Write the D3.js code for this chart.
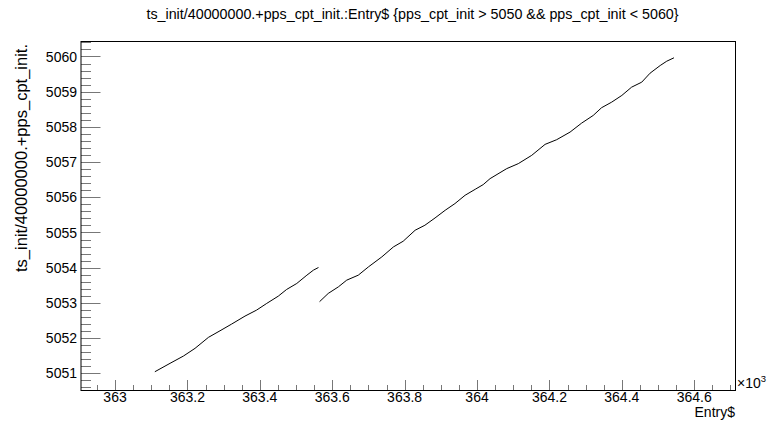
<!DOCTYPE html>
<html>
<head>
<meta charset="utf-8">
<script src="https://cdn.jsdelivr.net/npm/d3@7"></script>
<style>
  html, body { margin: 0; padding: 0; background: #fff; }
  svg { display: block; }
  text { font-family: "Liberation Sans", Arial, Helvetica, sans-serif; fill: #000; }
</style>
</head>
<body>
<svg id="chart" width="769" height="423"></svg>
<script>
// ---- data (Entry$, value) ----
const seg1X = [363110, 363152, 363189, 363221, 363258, 363290, 363322, 363359, 363391, 363419, 363451, 363474, 363502, 363530, 363548, 363562];
const seg1Y = [5051.045, 5051.284, 5051.491, 5051.709, 5052.021, 5052.208, 5052.398, 5052.625, 5052.795, 5052.985, 5053.192, 5053.382, 5053.552, 5053.788, 5053.930, 5054.006];

const seg2X = [363565, 363589, 363617, 363640, 363672, 363700, 363737, 363769, 363796, 363829, 363856, 363884, 363912, 363939, 363967, 363995, 364017, 364036, 364082, 364114, 364151, 364188, 364220, 364257, 364289, 364321, 364344, 364372, 364400, 364427, 364455, 364478, 364506, 364524, 364544];
const seg2Y = [5053.035, 5053.269, 5053.456, 5053.646, 5053.788, 5054.023, 5054.307, 5054.590, 5054.752, 5055.064, 5055.206, 5055.413, 5055.631, 5055.821, 5056.057, 5056.227, 5056.360, 5056.530, 5056.814, 5056.956, 5057.191, 5057.503, 5057.636, 5057.852, 5058.107, 5058.325, 5058.544, 5058.703, 5058.893, 5059.128, 5059.270, 5059.525, 5059.743, 5059.865, 5059.962];

const xTickValues = [363000, 363200, 363400, 363600, 363800, 364000, 364200, 364400, 364600];
const xTickLabels = ["363", "363.2", "363.4", "363.6", "363.8", "364", "364.2", "364.4", "364.6"];
const yTickValues = [5051, 5052, 5053, 5054, 5055, 5056, 5057, 5058, 5059, 5060];
const yTickLabels = ["5051", "5052", "5053", "5054", "5055", "5056", "5057", "5058", "5059", "5060"];

const titleText = "ts_init/40000000.+pps_cpt_init.:Entry$ {pps_cpt_init > 5050 && pps_cpt_init < 5060}";
const yTitle = "ts_init/40000000.+pps_cpt_init.";
const xTitle = "Entry$";

// ---- layout ----
const L = 81, R = 735.5, T = 41.5, B = 390.5;
const svg = d3.select("#chart");

const x = d3.scaleLinear().domain([362906, 364714]).range([L, R]);
const y = d3.scaleLinear().domain([5050.512, 5060.425]).range([B, T]);

// title
svg.append("text").attr("x", 412.5).attr("y", 19).attr("text-anchor", "middle")
  .style("font-size", "14.3px").text(titleText);

// data lines
const line = d3.line().x(d => x(d[0])).y(d => y(d[1]));
const s1 = seg1X.map((v, i) => [v, seg1Y[i]]);
const s2 = seg2X.map((v, i) => [v, seg2Y[i]]);
[s1, s2].forEach(s => {
  svg.append("path").datum(s).attr("d", line)
    .attr("fill", "none").attr("stroke", "#000").attr("stroke-width", 1);
});

// x axis ticks (inside frame)
const xMinor = d3.range(362950, 364714, 50).filter(v => !xTickValues.includes(v));
const gx = svg.append("g");
gx.selectAll("line.maj").data(xTickValues).enter().append("line")
  .attr("x1", d => Math.round(x(d)) + 0.5).attr("x2", d => Math.round(x(d)) + 0.5)
  .attr("y1", B).attr("y2", B - 10.5).attr("stroke", "#777").attr("stroke-width", 1);
gx.selectAll("line.min").data(xMinor).enter().append("line")
  .attr("x1", d => Math.round(x(d)) + 0.5).attr("x2", d => Math.round(x(d)) + 0.5)
  .attr("y1", B).attr("y2", B - 5.5).attr("stroke", "#777").attr("stroke-width", 1);
gx.selectAll("text").data(xTickValues).enter().append("text")
  .attr("x", d => x(d)).attr("y", 402).attr("text-anchor", "middle")
  .style("font-size", "14px").text((d, i) => xTickLabels[i]);

// y axis ticks (inside frame)
const yMinor = d3.range(50506, 50605, 2).map(v => v / 10).filter(v => v >= 5050.52 && v <= 5060.42 && !yTickValues.includes(Math.round(v * 10) / 10));
const gy = svg.append("g");
gy.selectAll("line.maj").data(yTickValues).enter().append("line")
  .attr("x1", L).attr("x2", L + 19.5)
  .attr("y1", d => Math.round(y(d)) + 0.5).attr("y2", d => Math.round(y(d)) + 0.5)
  .attr("stroke", "#777").attr("stroke-width", 1);
gy.selectAll("line.min").data(yMinor).enter().append("line")
  .attr("x1", L).attr("x2", L + 10)
  .attr("y1", d => Math.round(y(d)) + 0.5).attr("y2", d => Math.round(y(d)) + 0.5)
  .attr("stroke", "#777").attr("stroke-width", 1);
gy.selectAll("text").data(yTickValues).enter().append("text")
  .attr("x", 77).attr("y", d => y(d)).attr("dy", "0.36em").attr("text-anchor", "end")
  .style("font-size", "14px").text((d, i) => yTickLabels[i]);

// frame
svg.append("rect").attr("x", L).attr("y", T).attr("width", R - L).attr("height", B - T)
  .attr("fill", "none").attr("stroke", "#000").attr("stroke-width", 1);

// axis titles
svg.append("text").attr("transform", "translate(27,44) rotate(-90)")
  .attr("text-anchor", "end").style("font-size", "16.5px").text(yTitle);
svg.append("text").attr("x", 735).attr("y", 417).attr("text-anchor", "end")
  .style("font-size", "14px").text(xTitle);

// exponent
const ex = svg.append("text").attr("x", 737).attr("y", 388).style("font-size", "14px");
ex.append("tspan").text("\u00d710");
ex.append("tspan").attr("dy", -6).style("font-size", "9.5px").text("3");
</script>
</body>
</html>
